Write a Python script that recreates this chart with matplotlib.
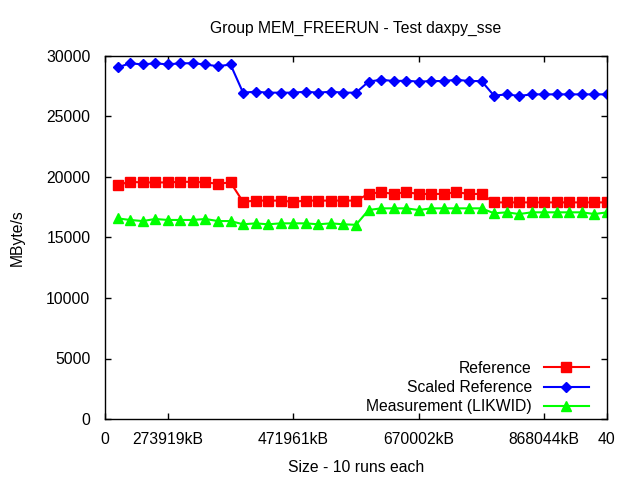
import matplotlib
matplotlib.use("Agg")
import matplotlib.pyplot as plt

plt.rcParams['font.family'] = ['Liberation Sans', 'DejaVu Sans']

x = list(range(1, 41))
reference = [19350, 19600, 19550, 19550, 19550, 19600, 19600, 19550, 19450, 19550,
             17950, 18050, 18050, 18050, 17950, 18050, 18050, 18050, 18050, 18050,
             18600, 18750, 18600, 18750, 18600, 18600, 18600, 18750, 18600, 18600,
             17900, 17900, 17900, 17900, 17900, 17900, 17900, 17900, 17900, 17900]
scaled = [29050, 29400, 29300, 29400, 29300, 29400, 29400, 29300, 29150, 29300,
          26970, 27050, 26970, 26970, 26970, 27050, 26970, 27050, 26970, 26970,
          27880, 28040, 27930, 27960, 27880, 27930, 27930, 28040, 27930, 27930,
          26720, 26830, 26700, 26830, 26830, 26830, 26830, 26830, 26830, 26830]
measurement = [16580, 16450, 16360, 16530, 16450, 16450, 16450, 16530, 16360, 16360,
               16090, 16170, 16090, 16170, 16170, 16170, 16090, 16170, 16090, 16050,
               17270, 17410, 17410, 17410, 17270, 17410, 17410, 17410, 17410, 17410,
               17000, 17080, 16940, 17080, 17080, 17080, 17080, 17080, 16940, 17080]

xtick_pos = [0, 5, 15, 25, 35, 40]
xtick_labels = ['0', '273919kB', '471961kB', '670002kB', '868044kB', '40']
ytick_pos = [0, 5000, 10000, 15000, 20000, 25000, 30000]

fs = 11.3
fig = plt.figure(figsize=(6.4, 4.8), dpi=100)
ax = fig.add_axes([105/640, 1-419/480, (607-105)/640, (419-56)/480])

ax.plot(x, reference, color='#ff0000', lw=1.5, marker='s', ms=7, label='Reference')
ax.plot(x, scaled, color='#0000ff', lw=1.5, marker='D', ms=5, label='Scaled Reference')
ax.plot(x, measurement, color='#00ff00', lw=1.5, marker='^', ms=7.5, label='Measurement (LIKWID)')

ax.set_xlim(0, 40)
ax.set_ylim(0, 30000)
ax.set_xticks(xtick_pos)
ax.set_xticklabels(xtick_labels, fontsize=fs)
ax.set_yticks(ytick_pos)
ax.set_yticklabels([str(v) for v in ytick_pos], fontsize=fs)
ax.tick_params(direction='in', length=4, width=1, top=True, right=True, color='black')
ax.tick_params(axis='x', pad=9)
ax.tick_params(axis='y', pad=10.5)
for s in ax.spines.values():
    s.set_linewidth(1)

ax.set_title('Group MEM_FREERUN - Test daxpy_sse', fontsize=fs, pad=17)
ax.set_xlabel('Size - 10 runs each', fontsize=fs, labelpad=10)
ax.set_ylabel('MByte/s', fontsize=fs, labelpad=15.5)

ax.legend(loc='lower right', bbox_to_anchor=(597/640, (480-422)/480), bbox_transform=fig.transFigure,
          frameon=False, markerfirst=False, fontsize=fs, borderpad=0, handlelength=2.9,
          handletextpad=0.75, labelspacing=0.26)

fig.savefig('out.png', dpi=100)
